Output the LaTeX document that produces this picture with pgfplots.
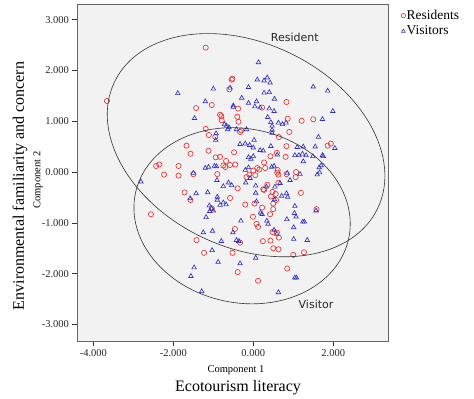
\documentclass[border=0pt]{standalone}
\usepackage{pgfplots}
\pgfplotsset{compat=1.18}
\usepackage{fontspec}
\setmainfont{Liberation Serif}
\newfontfamily\labsans{DejaVu Sans}
\definecolor{bgc}{RGB}{242,242,242}
\definecolor{resred}{RGB}{228,50,50}
\definecolor{visblue}{RGB}{50,50,190}
\begin{document}
\begin{tikzpicture}
\begin{axis}[
  at={(0,0)}, anchor=south west, scale only axis,
  width=311pt, height=337.7pt,
  xmin=-4.41, xmax=3.37, ymin=-3.34, ymax=3.31,
  xtick={-4,-2,0,2}, ytick={-3,-2,-1,0,1,2,3},
  tick align=outside, xtick pos=bottom, ytick pos=left,
  major tick length=4.5pt,
  axis line style={draw=black!60, line width=0.8pt},
  tick style={draw=black!80, line width=0.6pt},
  axis background/.style={fill=bgc},
  /pgf/number format/assume math mode=true,
  xticklabel style={/pgf/number format/fixed,/pgf/number format/fixed zerofill,/pgf/number format/precision=3},
  yticklabel style={/pgf/number format/fixed,/pgf/number format/fixed zerofill,/pgf/number format/precision=3},
  ticklabel style={font=\fontsize{10.5}{12}\selectfont, text=black!85},
  legend style={at={(1,1)}, anchor=north west, xshift=10pt, yshift=-3pt, draw=none, fill=none,
    font=\fontsize{13.5}{15}\selectfont, row sep=3pt, nodes={inner sep=1pt}},
  legend cell align=left,
  legend image code/.code={\draw[#1, mark size=2.2pt] plot coordinates {(2.5pt,0pt)};},
]
\addplot[only marks, mark=o, mark size=2.6pt, draw=resred, line width=0.65pt] coordinates {
(-1.19,2.45) (-3.66,1.40) (-0.54,1.82) (-0.52,1.84) (-0.60,1.63) (-1.43,1.26) (-1.04,1.32)
(-0.38,1.25) (0.22,1.27) (0.83,1.38) (-0.83,1.13) (-0.80,1.10) (-0.79,1.02) (-0.40,1.09)
(-0.37,0.99) (0.86,1.05) (1.21,1.01) (1.50,1.04) (-1.19,0.85) (-1.11,0.73) (-0.95,0.69)
(-0.33,0.79) (-0.30,0.82) (0.64,0.69) (0.90,0.79) (-1.67,0.52) (-1.57,0.36) (-1.12,0.42)
(-0.48,0.39) (0.83,0.51) (1.86,0.52) (1.94,0.56) (-0.94,0.29) (-0.83,0.30) (-0.68,0.22)
(0.43,0.31) (0.59,0.38) (0.81,0.30) (0.27,0.19) (-2.43,0.12) (-2.35,0.15) (-1.87,0.12)
(-2.23,-0.05) (-1.87,-0.07) (-1.50,-0.04) (-0.90,-0.04) (-0.75,0.13) (-0.70,0.10) (-0.58,0.14)
(-0.45,0.15) (0.00,0.03) (0.10,0.08) (0.15,0.05) (0.30,0.08) (0.61,0.04) (0.60,-0.01)
(0.83,-0.04) (1.07,0.00) (-0.10,-0.05) (0.05,-0.06) (-1.72,-0.40) (-1.57,-0.55) (-0.58,-0.51)
(-0.39,-0.32) (0.25,-0.34) (0.63,-0.21) (1.06,-0.10) (-0.17,-0.10) (1.19,-0.41) (0.56,-0.43)
(0.57,-0.55) (0.50,-0.62) (-1.04,-0.71) (-0.20,-0.64) (0.03,-0.62) (0.22,-0.70) (0.42,-0.83)
(-0.01,-0.88) (0.08,-1.02) (0.12,-1.08) (0.50,-0.73) (1.58,-0.73) (-2.56,-0.83) (-0.46,-1.12)
(0.48,-1.18) (0.59,-1.19) (0.64,-1.29) (-0.33,-1.39) (0.24,-1.36) (0.43,-1.35) (0.50,-1.50)
(0.63,-1.52) (-1.42,-1.34) (-1.23,-1.59) (-0.52,-1.59) (1.00,-1.63) (1.27,-1.58) (0.85,-1.90)
(-0.39,-1.97) (0.12,-2.14) (0.27,-0.35) (0.48,-0.39) (0.63,-0.05) (0.35,-0.25) (0.44,-0.48)
};
\addlegendentry{Residents}
\addplot[only marks, mark=triangle, mark size=2.6pt, draw=visblue, line width=0.65pt] coordinates {
(-1.89,1.55) (-1.00,1.64) (0.13,2.16) (0.10,1.82) (0.27,1.80) (0.35,1.86) (0.42,1.76)
(-0.12,1.67) (0.27,1.56) (0.40,1.57) (0.53,1.44) (1.50,1.68) (1.86,1.60) (-0.29,1.46)
(-1.20,1.39) (-0.50,1.31) (-0.50,1.28) (-0.12,1.36) (0.08,1.39) (0.04,1.29) (0.17,1.27)
(0.40,1.25) (0.52,1.20) (1.99,1.20) (-1.47,1.06) (0.36,1.08) (0.44,0.98) (0.63,0.97)
(0.73,0.94) (0.82,0.97) (1.73,1.04) (-0.72,0.94) (-0.67,0.91) (0.47,0.91) (0.47,0.83)
(0.47,0.77) (-0.42,0.84) (-0.17,0.84) (-0.93,0.76) (-0.94,0.63) (1.63,0.69) (0.02,0.63)
(-0.20,0.56) (-0.33,0.55) (-0.09,0.53) (0.44,0.51) (0.17,0.43) (0.25,0.42) (0.00,0.48)
(1.10,0.49) (1.25,0.50) (1.55,0.50) (2.04,0.47) (1.04,0.33) (1.14,0.33) (1.23,0.36)
(1.32,0.33) (1.49,0.31) (1.73,0.33) (1.75,0.31) (0.00,0.31) (-0.06,0.26) (0.60,0.34)
(1.25,0.21) (-1.20,0.08) (-1.12,0.10) (-0.97,0.12) (-0.92,0.11) (-0.20,0.04) (-0.12,0.09)
(0.46,0.10) (0.52,0.12) (1.65,0.09) (1.70,0.13) (1.66,-0.01) (1.17,-0.04) (-0.58,1.66)
(-0.61,0.88) (-0.64,0.84) (-0.12,0.29) (-2.81,-0.19) (-1.43,-0.42) (-1.14,-0.40) (-0.91,-0.16)
(-0.75,-0.28) (-0.62,-0.21) (-0.54,-0.26) (-0.19,-0.21) (-0.08,-0.12) (0.06,-0.27) (0.06,-0.41)
(0.33,-0.29) (0.54,-0.29) (0.67,-0.22) (0.92,-0.16) (0.85,-0.02) (1.60,-0.05) (-1.58,-0.52)
(-0.90,-0.49) (-0.90,-0.55) (-1.10,-0.66) (-1.04,-0.72) (-1.00,-0.76) (-1.09,-0.77) (-0.83,-0.65)
(-0.75,-0.60) (-0.68,-0.64) (0.08,-0.58) (0.71,-0.47) (0.83,-0.42) (0.86,-0.49) (0.53,-0.54)
(1.04,-0.67) (1.03,-0.81) (1.07,-0.88) (1.57,-0.76) (0.18,-0.80) (0.22,-0.83) (-1.18,-0.89)
(-0.31,-0.96) (0.34,-0.96) (0.37,-1.02) (0.84,-0.93) (1.24,-0.98) (1.28,-0.98) (1.01,-1.09)
(0.52,-1.14) (0.59,-1.22) (-1.25,-1.19) (-1.02,-1.16) (-0.51,-1.19) (-0.42,-1.34) (-0.36,-1.36)
(-0.80,-1.36) (1.01,-1.32) (1.35,-1.34) (-1.03,-1.54) (0.06,-1.69) (-0.88,-1.77) (-0.33,-1.80)
(-1.48,-1.88) (-1.56,-2.05) (1.04,-2.08) (1.08,-2.08) (-1.29,-2.35) (0.63,-2.37) (-1.50,-0.02)
};
\addlegendentry{Visitors}
\coordinate (cR) at (axis cs:-0.18,0.53);
\coordinate (cV) at (axis cs:-0.28,-0.86);
\node[font=\labsans\fontsize{11}{13}\selectfont, text=black!85] at (axis cs:1.04,2.66) {Resident};
\node[font=\labsans\fontsize{11}{13}\selectfont, text=black!85] at (axis cs:1.57,-2.60) {Visitor};
\end{axis}
\draw[black!80, line width=0.6pt, rotate around={-25.7:(cR)}] (cR) ellipse [x radius=146pt, y radius=102pt];
\draw[black!80, line width=0.6pt, rotate around={-12:(cV)}] (cV) ellipse [x radius=109pt, y radius=87pt];
\node[font=\fontsize{10.5}{12}\selectfont] at (159pt,-28.3pt) {Component 1};
\node[font=\fontsize{16}{19}\selectfont] at (161pt,-46.3pt) {Ecotourism literacy};
\node[font=\fontsize{10.5}{12}\selectfont, rotate=90] at (-39pt,161.7pt) {Component 2};
\node[font=\fontsize{16}{19}\selectfont, rotate=90] at (-57pt,155.7pt) {Environmental familiarity and concern};
\path (-77pt,-56.3pt) rectangle (397pt,341.7pt);
\end{tikzpicture}
\end{document}
